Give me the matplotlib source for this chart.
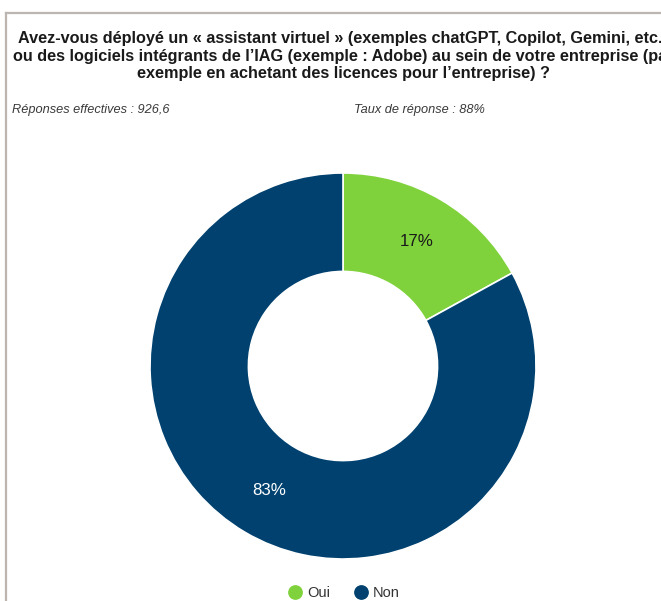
import matplotlib
matplotlib.use("Agg")
import matplotlib.pyplot as plt
from matplotlib.lines import Line2D

plt.rcParams['font.family'] = ['Liberation Sans', 'DejaVu Sans']

categories = ["Oui", "Non"]
shares = [17, 83]
colors = ["#80d23c", "#00416f"]
label_colors = ["#1a1a1a", "#ffffff"]

title = ("Avez-vous déployé un « assistant virtuel » (exemples chatGPT, Copilot, Gemini, etc.)\n"
         "ou des logiciels intégrants de l’IAG (exemple : Adobe) au sein de votre entreprise (par\n"
         "exemple en achetant des licences pour l’entreprise) ?")
note_left = "Réponses effectives : 926,6"
note_right = "Taux de réponse : 88%"

W, H = 661, 601
fig = plt.figure(figsize=(W / 100, H / 100), dpi=100)
fig.patch.set_facecolor("white")

def fx(px):
    return px / W

def fy(py):
    return 1 - py / H

# panel frame (top and left edges)
fig.add_artist(Line2D([fx(6), 1], [fy(13), fy(13)], color="#bdb5b0", lw=1.6))
fig.add_artist(Line2D([fx(6), fx(6)], [fy(13), 0], color="#bdb5b0", lw=1.6))

fig.text(fx(343), fy(31), title, ha="center", va="top", fontsize=11.7,
         fontweight="bold", color="#1a1a1a", linespacing=1.22)
fig.text(fx(12), fy(110), note_left, ha="left", va="center", fontsize=9.2,
         style="italic", color="#3a3a3a")
fig.text(fx(354), fy(110), note_right, ha="left", va="center", fontsize=9.2,
         style="italic", color="#3a3a3a")

cx, cy, r = 343, 366, 193
ax = fig.add_axes([fx(cx - r), fy(cy + r), 2 * r / W, 2 * r / H])
wedges, texts, autotexts = ax.pie(
    shares, colors=colors, startangle=90, counterclock=False,
    autopct="%.0f%%", pctdistance=0.75, radius=1.0,
    wedgeprops=dict(width=0.51, edgecolor="white", linewidth=1.2),
    textprops=dict(fontsize=12.2))
for t, c in zip(autotexts, label_colors):
    t.set_color(c)
ax.set_xlim(-1, 1)
ax.set_ylim(-1, 1)
ax.set_aspect("equal")
ax.axis("off")

handles = [Line2D([], [], marker="o", linestyle="none", markersize=9.6,
                  markerfacecolor=c, markeredgecolor=c) for c in colors]
fig.legend(handles, categories, loc="center", bbox_to_anchor=(fx(343), fy(593)),
           ncol=2, frameon=False, fontsize=10.5, handletextpad=0.2,
           handlelength=1.2, columnspacing=1.55, labelcolor="#333333")

fig.savefig("out.png", dpi=100)
